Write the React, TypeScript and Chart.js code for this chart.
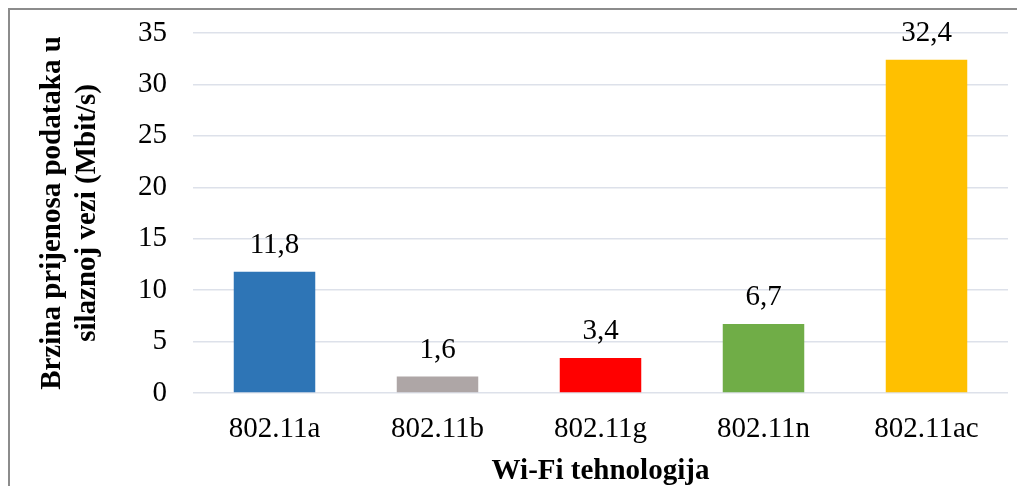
import React, { useEffect, useRef } from "react";
import { Chart, registerables } from "chart.js";

Chart.register(...registerables);

const categories = ["802.11a", "802.11b", "802.11g", "802.11n", "802.11ac"];
const values = [11.8, 1.6, 3.4, 6.7, 32.4];
const barColors = ["#2E75B6", "#AEA6A6", "#FF0000", "#70AD47", "#FFC000"];
const yTitle = ["Brzina prijenosa podataka u", "silaznoj vezi (Mbit/s)"];
const xTitle = "Wi-Fi tehnologija";

const FONT = "'Liberation Serif', 'Times New Roman', serif";

const labelPlugin = {
  id: "barLabels",
  afterDatasetsDraw(chart: any) {
    const ctx = chart.ctx;
    const meta = chart.getDatasetMeta(0);
    ctx.save();
    ctx.font = `29px ${FONT}`;
    ctx.fillStyle = "#000";
    ctx.textAlign = "center";
    ctx.textBaseline = "alphabetic";
    meta.data.forEach((bar: any, i: number) => {
      const txt = values[i].toFixed(1).replace(".", ",");
      ctx.fillText(txt, bar.x, bar.y - 19);
    });
    ctx.restore();
  },
};

export default function App() {
  const ref = useRef<HTMLCanvasElement>(null);
  useEffect(() => {
    const chart = new Chart(ref.current!, {
      type: "bar",
      data: {
        labels: categories,
        datasets: [
          {
            data: values,
            backgroundColor: barColors,
            barPercentage: 0.5,
            categoryPercentage: 1,
          },
        ],
      },
      options: {
        responsive: false,
        animation: false,
        layout: { padding: { left: 0, right: 7, top: 23, bottom: 0 } },
        plugins: { legend: { display: false }, tooltip: { enabled: false } },
        scales: {
          x: {
            grid: { display: false },
            border: { display: false },
            ticks: {
              color: "#000",
              font: { family: FONT, size: 29 },
              padding: 11,
              maxRotation: 0,
            },
            title: {
              display: true,
              text: xTitle,
              color: "#000",
              font: { family: FONT, size: 29, weight: "bold", lineHeight: 1 },
              padding: { top: 0, bottom: 0 },
            },
            afterFit(scale: any) {
              scale.height = 93;
              scale.paddingLeft = 0;
              scale.paddingRight = 0;
            },
          },
          y: {
            min: 0,
            max: 35,
            ticks: {
              stepSize: 5,
              color: "#000",
              font: { family: FONT, size: 29 },
              padding: 26,
            },
            grid: { color: "#DDE1EA", lineWidth: 1.5, drawTicks: false },
            border: { display: false },
            title: {
              display: true,
              text: yTitle,
              color: "#000",
              font: { family: FONT, size: 29, weight: "bold", lineHeight: 1.2 },
              padding: { top: 25, bottom: 0 },
            },
            afterFit(scale: any) {
              scale.width = 183;
              scale.paddingTop = 0;
              scale.paddingBottom = 0;
            },
          },
        },
      },
      plugins: [labelPlugin],
    });
    return () => chart.destroy();
  }, []);
  return (
    <div
      style={{
        borderLeft: "2px solid #8c8c8c",
        borderTop: "2px solid #8c8c8c",
        width: 1007,
        height: 476,
      }}
    >
      <canvas ref={ref} width={1005} height={476} style={{ display: "block" }} />
    </div>
  );
}
